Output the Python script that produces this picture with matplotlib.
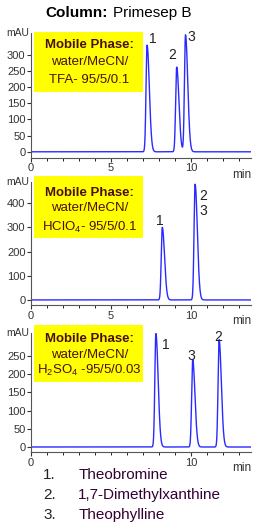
import matplotlib
matplotlib.use("Agg")
import matplotlib.pyplot as plt
import numpy as np

plt.rcParams['font.family'] = ['Liberation Sans', 'DejaVu Sans']
plt.rcParams['mathtext.default'] = 'regular'

# peaks: retention time (min), height (mAU), label
rt_tfa = [7.25, 9.1, 9.65]
h_tfa = [330, 262, 362]
lab_tfa = ["1", "2", "3"]

rt_hclo4 = [8.2, 10.25]
h_hclo4 = [300, 478]
lab_hclo4 = ["1", "2\n3"]

rt_h2so4 = [7.8, 10.1, 11.75]
h_h2so4 = [312, 240, 295]
lab_h2so4 = ["1", "3", "2"]

phases = [["water/MeCN/", "TFA- 95/5/0.1"],
          ["water/MeCN/", "HClO$_4$- 95/5/0.1"],
          ["water/MeCN/", "H$_2$SO$_4$ -95/5/0.03"]]
compounds = ["Theobromine", "1,7-Dimethylxanthine", "Theophylline"]

t = np.linspace(0, 13.75, 3000)


def trace(rts, hs):
    y = np.zeros_like(t)
    for r, h in zip(rts, hs):
        s = np.where(t < r, 0.065, 0.14)
        y += h * np.exp(-0.5 * ((t - r) / s) ** 2)
    return y


fig = plt.figure(figsize=(2.7, 5.3), dpi=100)
fig.text(0.40, 0.975, "Column:", ha="right", va="center", fontsize=11, fontweight="bold")
fig.text(0.42, 0.975, "Primesep B", ha="left", va="center", fontsize=11)

panels = [
    dict(rect=[0.115, 0.702, 0.815, 0.236], ylim=(-19, 368), yt=range(0, 301, 50),
         rts=rt_tfa, hs=h_tfa, labs=lab_tfa, xl=[0, 5, 10],
         lpos=[(7.6, 350), (8.8, 300), (10.0, 355)],
         box=(0.53, 1.008), ty=[0.904, 0.768, 0.624]),
    dict(rect=[0.115, 0.4245, 0.815, 0.232], ylim=(-21, 487), yt=range(0, 401, 100),
         rts=rt_hclo4, hs=h_hclo4, labs=lab_hclo4, xl=[0, 5, 10],
         lpos=[(8.05, 325), (10.75, 400)],
         box=(0.545, 1.05), ty=[0.91, 0.79, 0.634]),
    dict(rect=[0.115, 0.147, 0.815, 0.2245], ylim=(-14, 313), yt=range(0, 251, 50),
         rts=rt_h2so4, hs=h_h2so4, labs=lab_h2so4, xl=[0, 10],
         lpos=[(8.4, 280), (10.0, 250), (11.7, 302)],
         box=(0.59, 1.067), ty=[0.95, 0.82, 0.69]),
]

for i, p in enumerate(panels):
    ax = fig.add_axes(p["rect"])
    ax.plot(t, trace(p["rts"], p["hs"]), color="#2a2aff", lw=1.0)
    ax.set_xlim(0, 13.75)
    ax.set_ylim(*p["ylim"])
    for sp in ["top", "right"]:
        ax.spines[sp].set_visible(False)
    ax.spines["left"].set_color("#555555")
    ax.spines["bottom"].set_color("#555555")
    ax.set_yticks(list(p["yt"]))
    ax.set_xticks(p["xl"])
    ax.set_xticks(np.arange(0, 14, 1), minor=True)
    ax.tick_params(axis="both", labelsize=8, colors="#333333", length=3, width=0.8)
    ax.tick_params(axis="x", which="minor", length=2)
    ax.tick_params(axis="x", pad=1)
    ax.tick_params(axis="y", pad=1)
    ax.text(-0.01, 1.0, "mAU", transform=ax.transAxes, ha="right", va="center",
            fontsize=7.5, color="#333333")
    ax.text(1.0, -0.085, "min", transform=ax.transAxes, ha="right", va="top",
            fontsize=8.5, color="#333333")
    for lab, (x, y) in zip(p["labs"], p["lpos"]):
        ax.text(x, y, lab, ha="center", va="center", fontsize=10, color="#222222",
                linespacing=1.1)
    b0, b1 = p["box"]
    ax.add_patch(plt.Rectangle((0.014, b0), 0.495, b1 - b0, transform=ax.transAxes,
                               facecolor="#ffff00", edgecolor="none", zorder=4,
                               clip_on=False))
    ax.text(0.265, p["ty"][0], "Mobile Phase:", transform=ax.transAxes, ha="center",
            va="center", fontsize=9.5, fontweight="bold", color="#4a1010", zorder=5)
    for line, y in zip(phases[i], p["ty"][1:]):
        ax.text(0.265, y, line, transform=ax.transAxes, ha="center", va="center",
                fontsize=9.5, color="#4a1010", zorder=5)

for k, name in enumerate(compounds):
    y = 0.104 - k * 0.038
    fig.text(0.16, y, f"{k + 1}.", ha="left", va="center", fontsize=11, color="#222222")
    fig.text(0.29, y, name, ha="left", va="center", fontsize=11, color="#330033")

fig.savefig("out.png", dpi=100)
